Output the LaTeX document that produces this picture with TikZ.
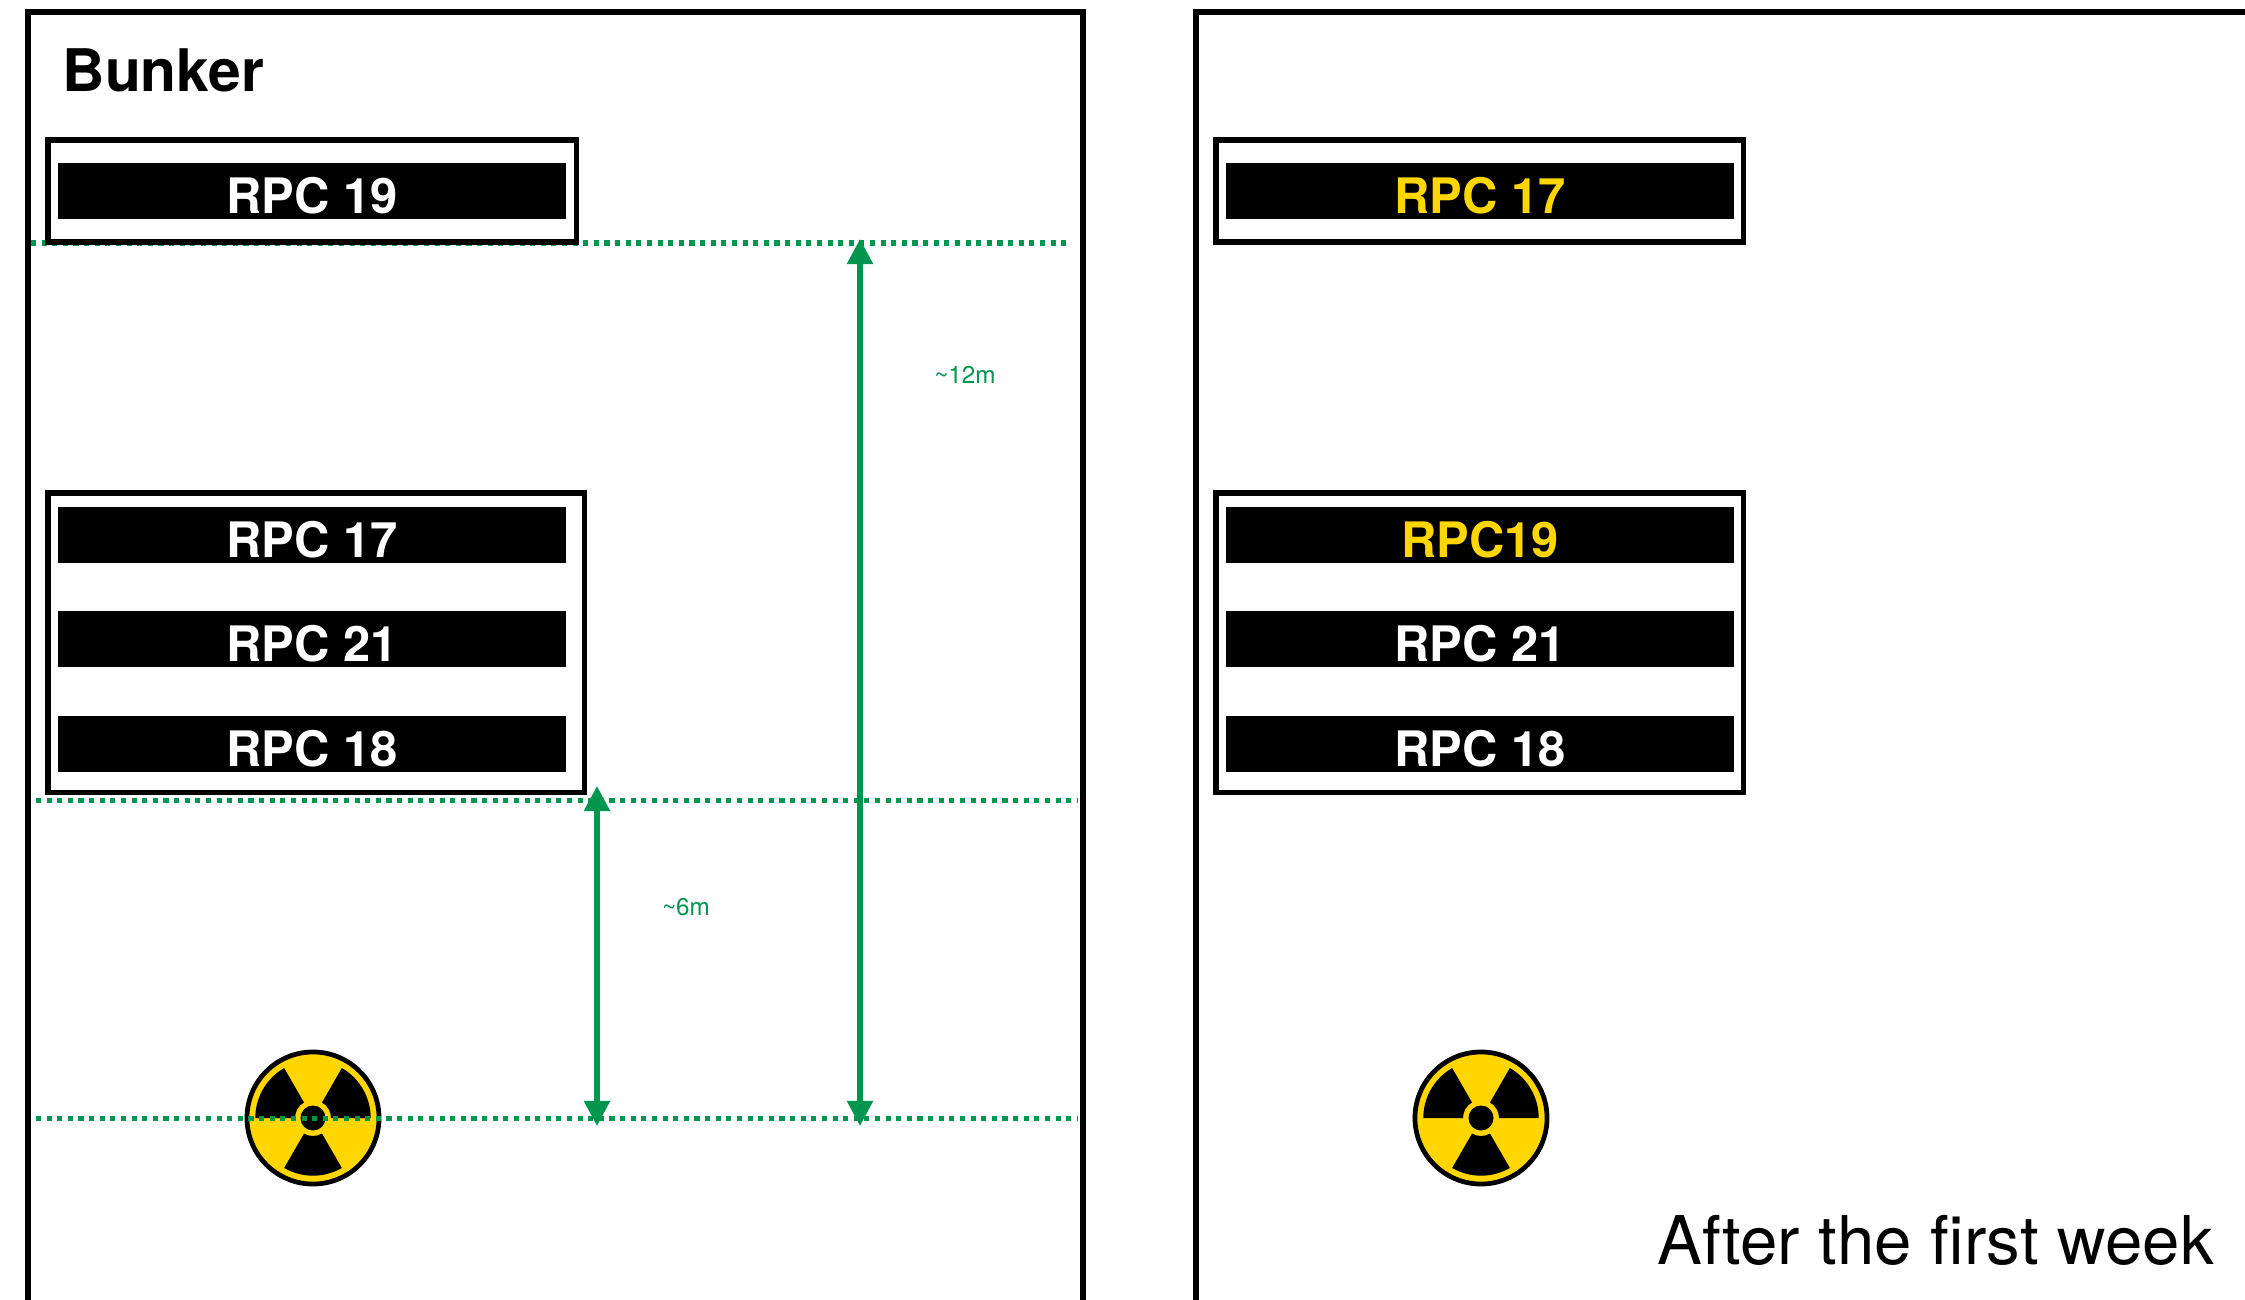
\documentclass[tikz,border=0pt]{standalone}
\usepackage{xcolor}
\usepackage{fontspec}
\setmainfont{TeX Gyre Heros}
\usetikzlibrary{arrows.meta}

\definecolor{levelgreen}{RGB}{0,150,80}
\definecolor{signyellow}{RGB}{255,214,0}

\tikzset{
    wall/.style={line width=1.5pt},
    rpcframe/.style={draw, line width=1.5pt, fill=white, inner sep=0pt, outer sep=0pt, anchor=north west},
    rpcbar/.style={fill=black, text=white, inner sep=0pt, minimum width=5.08cm, minimum height=0.56cm,
        text height=0.44cm, text depth=0pt, font=\fontsize{13.9}{14}\selectfont\bfseries},
    level/.style={levelgreen, line width=1.5pt, dash pattern=on 1.45pt off 1.57pt},
    span/.style={levelgreen, line width=1.5pt, {Triangle[length=0.25cm,width=0.25cm]}-{Triangle[length=0.25cm,width=0.25cm]}},
    spanlabel/.style={levelgreen, inner sep=0pt, font=\fontsize{6.9}{8}\selectfont},
    signdisc/.style={circle, draw=black, fill=signyellow, line width=1.35pt, minimum size=1.32cm, inner sep=0pt}
}

\begin{document}
\begin{tikzpicture}[x=0.01cm, y=-0.01cm]
    \useasboundingbox (0,0) rectangle (2245,1300);

    % Bunker walls
    \draw[wall] (28,1300) -- (28,12) -- (1083,12) -- (1083,1300);
    \draw[wall] (1196,1300) -- (1196,12) -- (2245,12);

    % Radiation signs
    \foreach \cx/\signname in {313/signleft, 1481/signright} {
        \node[signdisc] (\signname) at (\cx,1118) {};
        \foreach \a in {0,120,240} {
            \fill[black] (\cx,1118) ++(\a-60:18) -- ++(\a-60:39.7) arc[start angle=\a-60, end angle=\a, radius=57.7]
                -- ++(\a:-39.7) arc[start angle=\a, end angle=\a-60, radius=18] -- cycle;
        }
        \fill[black] (\cx,1118) circle (12.5);
    }

    % Levels
    \coordinate (levelA) at (31,243);
    \coordinate (levelAend) at (1068,243);
    \coordinate (levelB) at (36,800.5);
    \coordinate (levelBend) at (1077,800.5);
    \coordinate (levelC) at (36,1118.5);
    \coordinate (levelCend) at (1077,1118.5);
    \draw[level] (levelA) -- (levelAend);
    \draw[level] (levelB) -- (levelBend);
    \draw[level] (levelC) -- (levelCend);

    % Left bunker
    \node[rpcframe, minimum width=5.28cm, minimum height=1.02cm] (frameupper) at (48,140) {};
    \node[rpcframe, minimum width=5.36cm, minimum height=2.99cm] (framelower) at (48,493) {};
    \node[rpcbar] (rpcA) at (312,191) {RPC 19};
    \node[rpcbar] (rpcB) at (312,535) {RPC 17};
    \node[rpcbar] (rpcC) at (312,639) {RPC 21};
    \node[rpcbar] (rpcD) at (312,744) {RPC 18};
    \node[anchor=base west, inner sep=0pt, font=\fontsize{16.7}{18}\selectfont\bfseries] (bunker) at (62,92) {Bunker};

    % Right bunker
    \node[rpcframe, minimum width=5.27cm, minimum height=1.02cm] (swapupper) at (1216,140) {};
    \node[rpcframe, minimum width=5.27cm, minimum height=2.99cm] (swaplower) at (1216,493) {};
    \node[rpcbar, text=signyellow] (swapA) at (1480,191) {RPC 17};
    \node[rpcbar, text=signyellow] (swapB) at (1480,535) {RPC19};
    \node[rpcbar] (swapC) at (1480,639) {RPC 21};
    \node[rpcbar] (swapD) at (1480,744) {RPC 18};
    \node[anchor=base west, inner sep=0pt, font=\fontsize{19.1}{21}\selectfont] (week) at (1657,1264) {After the first week};

    % Distances
    \coordinate (spanAtop) at (860,239);
    \coordinate (spanAbot) at (860,1126);
    \coordinate (spanBtop) at (597,786);
    \coordinate (spanBbot) at (597,1126);
    \draw[span] (spanAtop) -- (spanAbot);
    \draw[span] (spanBtop) -- (spanBbot);
    \node[spanlabel] (labelA) at (965,375) {\textasciitilde 12m};
    \node[spanlabel] (labelB) at (686,907) {\textasciitilde 6m};
\end{tikzpicture}
\end{document}
